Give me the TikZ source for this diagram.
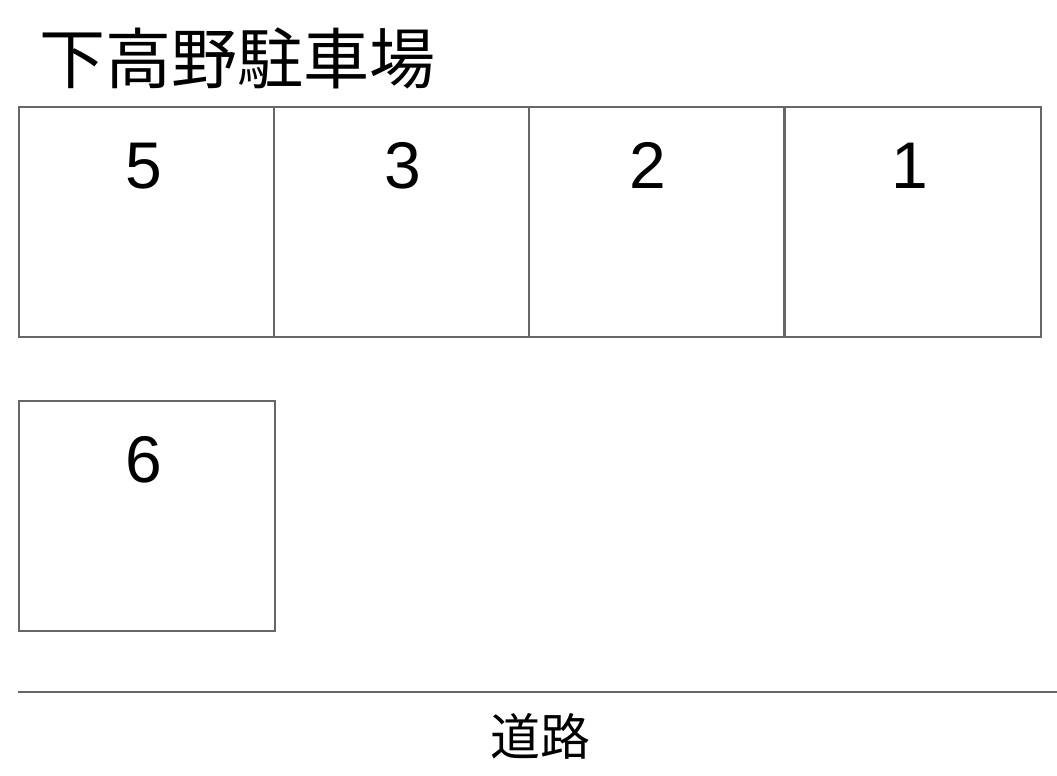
\documentclass[tikz,border=0pt]{standalone}
\usepackage{fontspec}
\setmainfont{Liberation Sans}
\newfontfamily\cjk{Noto Sans CJK JP}
\begin{document}
\begin{tikzpicture}[x=1pt,y=-1pt,
  stall/.style={draw=black!60,line width=2pt,inner sep=0pt,minimum width=255pt,minimum height=230pt,anchor=north west},
  num/.style={font=\fontsize{66}{66}\selectfont,inner sep=0pt,anchor=base},
  road/.style={draw=black!60,line width=2.5pt}]
\useasboundingbox (0,0) rectangle (1057,776);
\node[anchor=center,inner sep=0pt,font=\cjk\fontsize{66}{66}\selectfont] (title) at (237,58) {下高野駐車場};
\node[stall] (s5) at (18,106) {};
\node[stall] (s3) at (273,106) {};
\node[stall] (s2) at (528,106) {};
\node[stall,minimum width=256pt] (s1) at (784,106) {};
\node[stall,minimum width=256pt] (s6) at (18,400) {};
\node[num] (n5) at (144,188) {5};
\node[num] (n3) at (403,188) {3};
\node[num] (n2) at (648,188) {2};
\node[num] (n1) at (910,188) {1};
\node[num] (n6) at (144,482) {6};
\coordinate (rl) at (18,692);
\coordinate (rr) at (1057,692);
\draw[road] (rl) -- (rr);
\node[anchor=center,inner sep=0pt,font=\cjk\fontsize{50}{50}\selectfont] (road) at (540,736) {道路};
\end{tikzpicture}
\end{document}
